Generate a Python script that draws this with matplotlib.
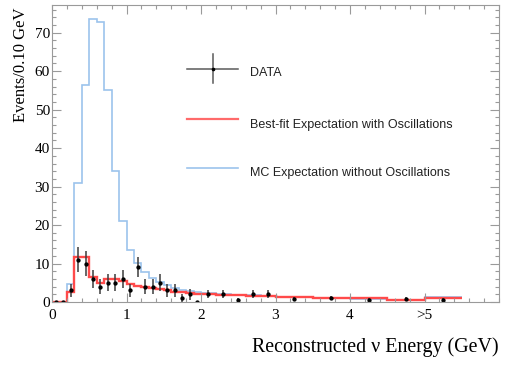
import numpy as np
import matplotlib
matplotlib.use("Agg")
import matplotlib.pyplot as plt
from matplotlib.ticker import MultipleLocator, FixedLocator, FixedFormatter

# Reconstructed energy binning (GeV): 0.1 GeV up to 2, 0.2 GeV up to 3, 0.5 GeV up to 5.5 (overflow)
bin_edges = [0.0, 0.1, 0.2, 0.3, 0.4, 0.5, 0.6, 0.7, 0.8, 0.9, 1.0,
             1.1, 1.2, 1.3, 1.4, 1.5, 1.6, 1.7, 1.8, 1.9, 2.0,
             2.2, 2.4, 2.6, 2.8, 3.0, 3.5, 4.0, 4.5, 5.0, 5.5]

# Expectation without oscillations (events / 0.10 GeV)
mc_no_osc = [0.0, 0.0, 4.6, 31.0, 56.4, 73.6, 72.8, 55.2, 34.0, 21.0,
             13.6, 10.2, 7.9, 6.3, 5.1, 4.3, 3.7, 3.1, 2.9, 2.6,
             2.3, 2.1, 1.9, 1.7, 1.6, 1.3, 1.1, 0.9, 0.6, 1.2]

# Best-fit expectation with oscillations (events / 0.10 GeV)
best_fit = [0.0, 0.0, 2.5, 11.8, 11.6, 6.5, 5.0, 5.9, 5.9, 5.4,
            4.6, 4.2, 4.0, 3.6, 3.3, 3.0, 2.7, 2.5, 2.3, 2.1,
            2.0, 1.8, 1.7, 1.6, 1.6, 1.3, 1.0, 1.0, 0.5, 1.0]

# Observed data (events / 0.10 GeV) and statistical errors
data_vals = [0.0, 0.0, 3.0, 11.0, 10.0, 6.0, 4.0, 5.0, 5.0, 6.0,
             3.0, 9.0, 4.0, 4.0, 5.0, 3.0, 3.0, 1.0, 2.0, 0.0,
             2.0, 2.0, 0.5, 2.0, 2.0, 0.8, 1.0, 0.6, 0.8, 0.6]
data_errs = [0.0, 0.0, 1.7, 3.3, 3.2, 2.4, 2.0, 2.2, 2.2, 2.4,
             1.7, 2.6, 2.0, 2.0, 2.2, 1.7, 1.7, 1.0, 1.4, 0.0,
             1.0, 1.0, 0.5, 1.0, 1.0, 0.4, 0.45, 0.35, 0.4, 0.35]

x_tick_pos = [0, 1, 2, 3, 4, 5]
x_tick_labels = ["0", "1", "2", "3", "4", ">5"]

W, H = 509, 365
fig = plt.figure(figsize=(W / 100, H / 100), dpi=100)
ax = fig.add_axes([52 / W, 1 - 302 / H, (499 - 52) / W, (302 - 5) / H])

edges = np.array(bin_edges)
centers = 0.5 * (edges[:-1] + edges[1:])

ax.stairs(mc_no_osc, edges, color="#9cc3ec", lw=1.2, baseline=None)
ax.stairs(best_fit, edges, color="#ff4a4a", lw=1.7, baseline=None)
ax.errorbar(centers, data_vals, yerr=data_errs, fmt="o", ms=2.1,
            color="black", ecolor="#3c3c3c", elinewidth=1.1, capsize=0)

ax.set_xlim(0, 6.0)
ax.set_ylim(0, 77.2)

ax.xaxis.set_major_locator(FixedLocator(x_tick_pos))
ax.xaxis.set_major_formatter(FixedFormatter(x_tick_labels))
ax.xaxis.set_minor_locator(MultipleLocator(0.2))
ax.yaxis.set_major_locator(MultipleLocator(10))
ax.yaxis.set_minor_locator(MultipleLocator(2))

for s in ax.spines.values():
    s.set_color("#9a9a9a")
    s.set_linewidth(0.8)

ax.tick_params(which="both", direction="in", top=True, right=True,
               color="#9a9a9a", width=0.8)
ax.tick_params(which="major", length=6.5)
ax.tick_params(which="minor", length=3.0)
ax.tick_params(axis="x", which="major", pad=5, labelsize=11)
ax.tick_params(axis="y", which="major", pad=1.5, labelsize=11)
for lab in ax.get_xticklabels() + ax.get_yticklabels():
    lab.set_family("Liberation Serif")

# Axis titles
fig.text(21 / W, 1 - 8 / H, "Events/0.10 GeV", rotation=90, ha="center", va="top",
         family="Liberation Serif", fontsize=12)
fig.text(499 / W, 1 - 347 / H, "Reconstructed \u03bd Energy (GeV)", ha="right", va="center",
         family="Liberation Serif", fontsize=14.4)

# Legend
def ax_xy(px, py):
    return (px - 52) / 447, (302 - py) / 297

x0, y0 = ax_xy(187, 68.5)
x1, _ = ax_xy(238, 68.5)
_, yt = ax_xy(0, 54)
_, yb = ax_xy(0, 83)
ax.plot([x0, x1], [y0, y0], transform=ax.transAxes, color="#5a5a5a", lw=1.1)
ax.plot([(x0 + x1) / 2] * 2, [yb, yt], transform=ax.transAxes, color="#5a5a5a", lw=1.1)
ax.plot([(x0 + x1) / 2], [y0], "o", ms=1.6, color="black", transform=ax.transAxes)

_, yr = ax_xy(0, 118.5)
ax.plot([x0, x1], [yr, yr], transform=ax.transAxes, color="#ff6a6a", lw=1.6)
_, yblue = ax_xy(0, 168)
ax.plot([x0, x1], [yblue, yblue], transform=ax.transAxes, color="#9cc3ec", lw=1.2)

tx, _ = ax_xy(250, 0)
for py, txt in [(73, "DATA"), (125, "Best-fit Expectation with Oscillations"),
                (173, "MC Expectation without Oscillations")]:
    _, ty = ax_xy(0, py)
    ax.text(tx, ty, txt, transform=ax.transAxes, ha="left", va="center",
            family="Liberation Sans", fontsize=9, color="#222222")

fig.savefig("out.png", dpi=100)
